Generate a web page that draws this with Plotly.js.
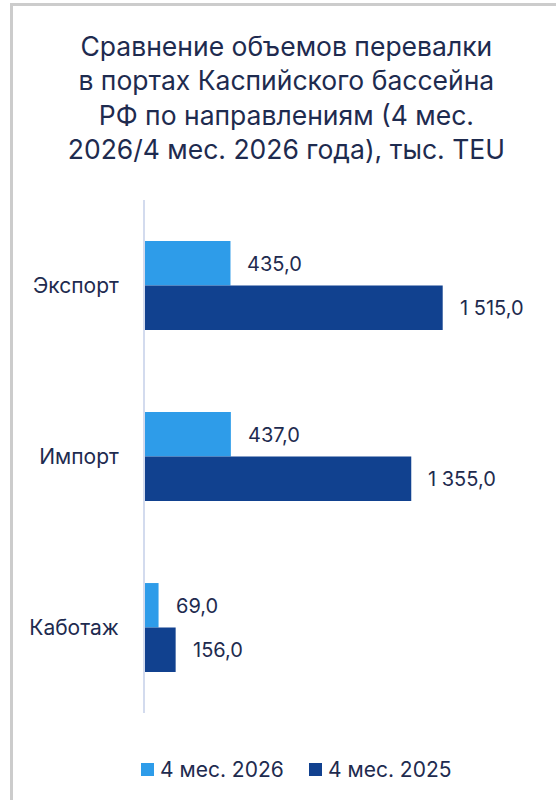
<!DOCTYPE html>
<html>
<head>
<meta charset="utf-8">
<script src="https://cdn.plot.ly/plotly-3.0.1.min.js"></script>
<style>
  html, body { margin: 0; padding: 0; background: #ffffff; }
  #wrap { position: relative; width: 556px; height: 800px; overflow: hidden; }
  #chart { width: 556px; height: 800px; }
  #frame { position: absolute; left: 10px; top: 3px; right: -5px; bottom: -5px;
           border-left: 3px solid #cccccc; border-top: 3px solid #cccccc; pointer-events: none; }
</style>
</head>
<body>
<div id="wrap">
  <div id="chart"></div>
  <div id="frame"></div>
</div>
<script>
const categories = ['Экспорт', 'Импорт', 'Каботаж'];
const series2026 = [435, 437, 69];
const series2025 = [1515, 1355, 156];
const seriesNames = ['4 мес. 2026', '4 мес. 2025'];
const colors = ['#2E9CE9', '#11418F'];
const textColor = '#1E2B4F';
const fontFamily = 'Inter, "Noto Sans", Roboto, sans-serif';

const W = 556, H = 800;
const M = { l: 145, r: 18, t: 200, b: 87 };
const pw = W - M.l - M.r, ph = H - M.t - M.b;
const px2x = p => (p - M.l) / pw;
const px2y = p => (H - M.b - p) / ph;

const traces = [
  { type: 'bar', orientation: 'h', name: seriesNames[0], y: categories, x: series2026,
    marker: { color: colors[0] }, hoverinfo: 'skip' },
  { type: 'bar', orientation: 'h', name: seriesNames[1], y: categories, x: series2025,
    marker: { color: colors[1] }, hoverinfo: 'skip' }
];

function fmt(v) {
  const s = v.toFixed(1).replace('.', ',');
  const [i, d] = s.split(',');
  return i.replace(/\B(?=(\d{3})+(?!\d))/g, ' ') + ',' + d;
}

const annotations = [];
[series2026, series2025].forEach((vals, k) => {
  vals.forEach((v, i) => {
    annotations.push({
      x: v, y: categories[i], xref: 'x', yref: 'y',
      text: fmt(v), showarrow: false, xanchor: 'left',
      xshift: 15, yshift: k === 0 ? 22 : -22,
      font: { family: fontFamily, size: 20, color: textColor }
    });
  });
});

// custom legend (decoration)
const legendItems = [
  { sq: 141, tx: 158 },
  { sq: 309, tx: 326 }
];
const shapes = [];
legendItems.forEach((it, k) => {
  shapes.push({
    type: 'rect', xref: 'paper', yref: 'paper',
    x0: px2x(it.sq), x1: px2x(it.sq + 13), y0: px2y(776), y1: px2y(763),
    fillcolor: colors[k], line: { width: 0 }
  });
  annotations.push({
    xref: 'paper', yref: 'paper', x: px2x(it.tx), y: px2y(769.5),
    xanchor: 'left', yanchor: 'middle', showarrow: false, text: seriesNames[k],
    font: { family: fontFamily, size: 21, color: textColor }
  });
});

const layout = {
  width: W, height: H,
  paper_bgcolor: '#ffffff', plot_bgcolor: '#ffffff',
  margin: M,
  barmode: 'group', bargap: 0.48, bargroupgap: 0,
  title: {
    text: 'Сравнение объемов перевалки<br>в портах Каспийского бассейна<br>РФ по направлениям (4 мес.<br>2026/4 мес. 2026 года), тыс. TEU',
    font: { family: fontFamily, size: 26.5, color: textColor },
    x: 0.515, xanchor: 'center', xref: 'container',
    y: 1 - 56 / 800, yanchor: 'top', yref: 'container'
  },
  xaxis: { type: 'linear', autorange: false, range: [0, 2000], visible: false, fixedrange: true },
  yaxis: {
    autorange: 'reversed', automargin: false, showline: true, linecolor: '#D3DBEE', linewidth: 2,
    showgrid: false, zeroline: false, ticks: '', ticklabelstandoff: 20,
    tickfont: { family: fontFamily, size: 21, color: textColor }
  },
  showlegend: false,
  shapes: shapes,
  annotations: annotations
};

Plotly.newPlot('chart', traces, layout, { displayModeBar: false, staticPlot: true });
</script>
</body>
</html>
